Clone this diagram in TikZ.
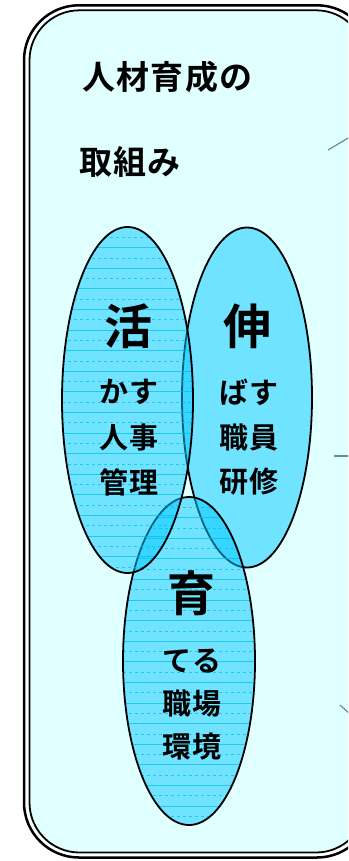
\documentclass[tikz,border=0pt]{standalone}
\usepackage{fontspec}
\usetikzlibrary{shapes.geometric}
\newfontfamily\cjkb{Noto Sans CJK JP Bold}
\definecolor{bgcyan}{RGB}{224,255,255}
\definecolor{ellfill}{RGB}{0,200,255}
\definecolor{patline}{RGB}{0,190,235}
\definecolor{connc}{RGB}{105,140,150}
\tikzset{
  ellborder/.style={draw=black, line width=1.8pt, ellipse, inner sep=0pt},
  ellfillst/.style={fill=ellfill, fill opacity=0.5},
  titletext/.style={font=\cjkb\fontsize{33}{33}\selectfont\addfontfeature{LetterSpace=4}, inner sep=0pt},
  bigchar/.style={font=\cjkb\fontsize{48}{48}\selectfont, inner sep=0pt},
  smalltext/.style={font=\cjkb\fontsize{29}{29}\selectfont\addfontfeature{LetterSpace=2}, inner sep=0pt},
  conn/.style={draw=connc, line width=1.2pt},
}
\newcommand{\hlines}[4]{% cx, cy, rx, ry
  \begin{scope}
    \clip (#1,#2) ellipse [x radius=#3, y radius=#4];
    \foreach \k in {0,...,40} {
      \pgfmathsetmacro{\yy}{#2-#4+\k*10.3}
      \ifodd\k
        \draw[patline, line width=0.8pt, opacity=0.7, dashed] (#1-#3,\yy) -- (#1+#3,\yy);
      \else
        \draw[patline, line width=0.8pt, opacity=0.7] (#1-#3,\yy) -- (#1+#3,\yy);
      \fi
    }
  \end{scope}
}
\begin{document}
\begin{tikzpicture}[x=1pt,y=-1pt]
\useasboundingbox (0,0) rectangle (348,861);
\clip (0,0) rectangle (348,861);
% frame
\draw[line width=2.5pt, fill=white, rounded corners=55pt] (24,5.3) rectangle (372,857.5);
\draw[line width=1.8pt, fill=bgcyan, rounded corners=50pt] (29.5,10.3) rectangle (366,852.5);
% title
\node[titletext, anchor=west] (title1) at (82,77.5) {人材育成の};
\node[titletext, anchor=west] (title2) at (79,162) {取組み};
% ellipse nobu (right)
\path[ellfillst] (247,397.5) ellipse [x radius=65, y radius=170];
\node[ellborder, minimum width=130pt, minimum height=340pt] (nobu) at (247,397.5) {};
% ellipse sodateru (bottom)
\path[ellfillst] (189,661) ellipse [x radius=66, y radius=164];
\hlines{189}{661}{66}{164}
\node[ellborder, minimum width=132pt, minimum height=328pt] (soda) at (189,661) {};
% ellipse ikasu (left)
\path[ellfillst] (127.5,400) ellipse [x radius=65.5, y radius=173];
\hlines{127.5}{400}{65.5}{173}
\node[ellborder, minimum width=131pt, minimum height=346pt] (ika) at (127.5,400) {};
% texts left
\node[bigchar] (k1) at (128,326) {活};
\node[smalltext] (k2) at (129,392) {かす};
\node[smalltext] (k3) at (129,438) {人事};
\node[smalltext] (k4) at (129,482) {管理};
% texts right
\node[bigchar] (n1) at (247.5,326) {伸};
\node[smalltext] (n2) at (249,392) {ばす};
\node[smalltext] (n3) at (249,438) {職員};
\node[smalltext] (n4) at (249,482) {研修};
% texts bottom
\node[bigchar] (s1) at (191,593) {育};
\node[smalltext] (s2) at (192,661) {てる};
\node[smalltext] (s3) at (192,704) {職場};
\node[smalltext] (s4) at (192,747) {環境};
% connectors leaving to the right
\coordinate (c1a) at (328,150); \coordinate (c1b) at (350,137);
\coordinate (c2a) at (334,456); \coordinate (c2b) at (350,456);
\coordinate (c3a) at (340,705); \coordinate (c3b) at (350,714);
\draw[conn] (c1a) -- (c1b);
\draw[conn] (c2a) -- (c2b);
\draw[conn] (c3a) -- (c3b);
\end{tikzpicture}
\end{document}
